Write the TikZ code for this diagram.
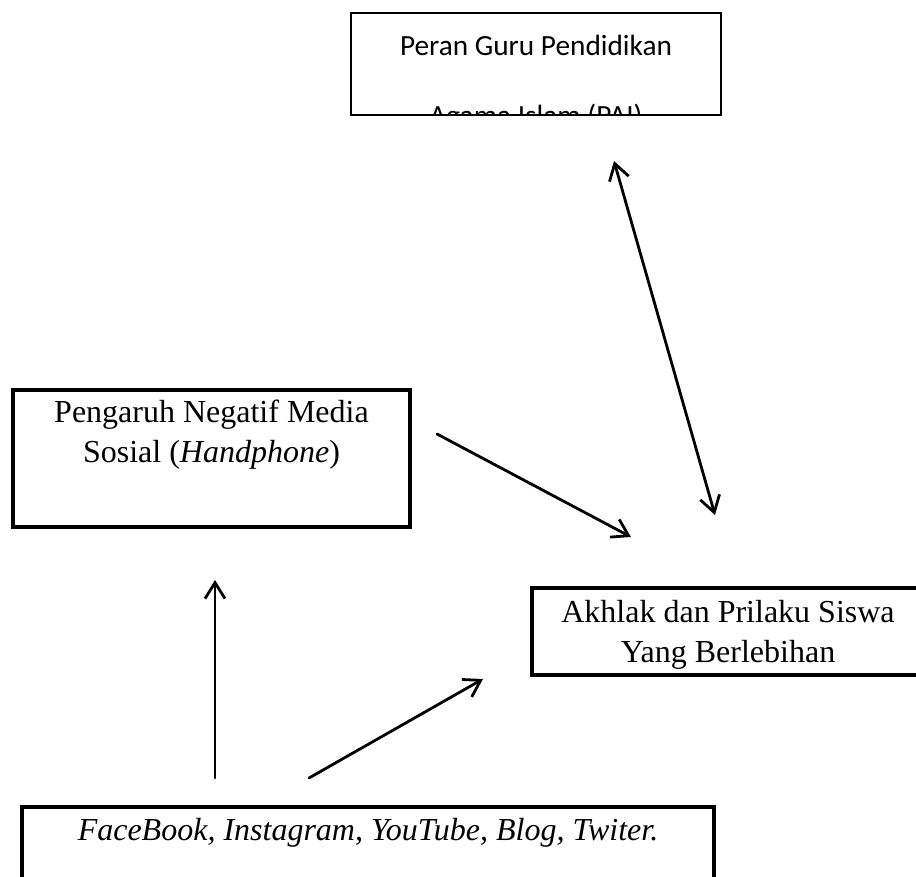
\documentclass[tikz,border=0pt]{standalone}
\usepackage{fontspec}
\setmainfont{Liberation Serif}
\newfontfamily\calibri{Carlito}
\usetikzlibrary{arrows.meta}
\begin{document}
\begin{tikzpicture}[x=1pt,y=-1pt,
  boxline/.style={draw=black, line width=#1, fill=none, inner sep=0pt, outer sep=0pt},
  label/.style={anchor=base, align=center, inner sep=0pt, font=\fontsize{32}{40}\selectfont},
  conn/.style={line width=2.8pt, line cap=round, -{Straight Barb[length=16pt,width=20pt]}},
  dconn/.style={line width=2.8pt, line cap=round, {Straight Barb[length=16pt,width=20pt]}-{Straight Barb[length=16pt,width=20pt]}}]
\clip (0,0) rectangle (916,877);
\fill[white] (0,0) rectangle (916,877);
% top box
\node[boxline=2pt, minimum width=370pt, minimum height=102pt] (guru) at (536,64) {};
\begin{scope}
  \clip (352,14) rectangle (720,114);
  \node[anchor=base, align=center, inner sep=0pt, font=\calibri\fontsize{29.3}{70}\selectfont] (gurutext) at (536,126) {Peran Guru Pendidikan\\Agama Islam (PAI)};
\end{scope}
% left box
\node[boxline=4.5pt, minimum width=397pt, minimum height=137pt] (medsos) at (211.5,458.5) {};
\node[label] (medsostext) at (211.5,462) {Pengaruh Negatif Media\\Sosial (\textit{Handphone})};
% right box
\node[boxline=4.5pt, minimum width=392pt, minimum height=87pt] (akhlak) at (728,631.5) {};
\node[label] (akhlaktext) at (728,662) {Akhlak dan Prilaku Siswa\\Yang Berlebihan};
% bottom box
\node[boxline=4.5pt, minimum width=692pt, minimum height=93pt] (platform) at (368,853.5) {};
\node[label] (platformtext) at (368,840) {\textit{FaceBook, Instagram, YouTube, Blog, Twiter.}};
% connector end points
\coordinate (a1s) at (215,778);
\coordinate (a1e) at (215,580);
\coordinate (a2s) at (309,778);
\coordinate (a2e) at (483,679);
\coordinate (a3s) at (437,434);
\coordinate (a3e) at (631,537);
\coordinate (a4s) at (614,161);
\coordinate (a4e) at (715,515);
\draw[conn] (a1s) -- (a1e);
\draw[conn] (a2s) -- (a2e);
\draw[conn] (a3s) -- (a3e);
\draw[dconn] (a4s) -- (a4e);
\end{tikzpicture}
\end{document}
